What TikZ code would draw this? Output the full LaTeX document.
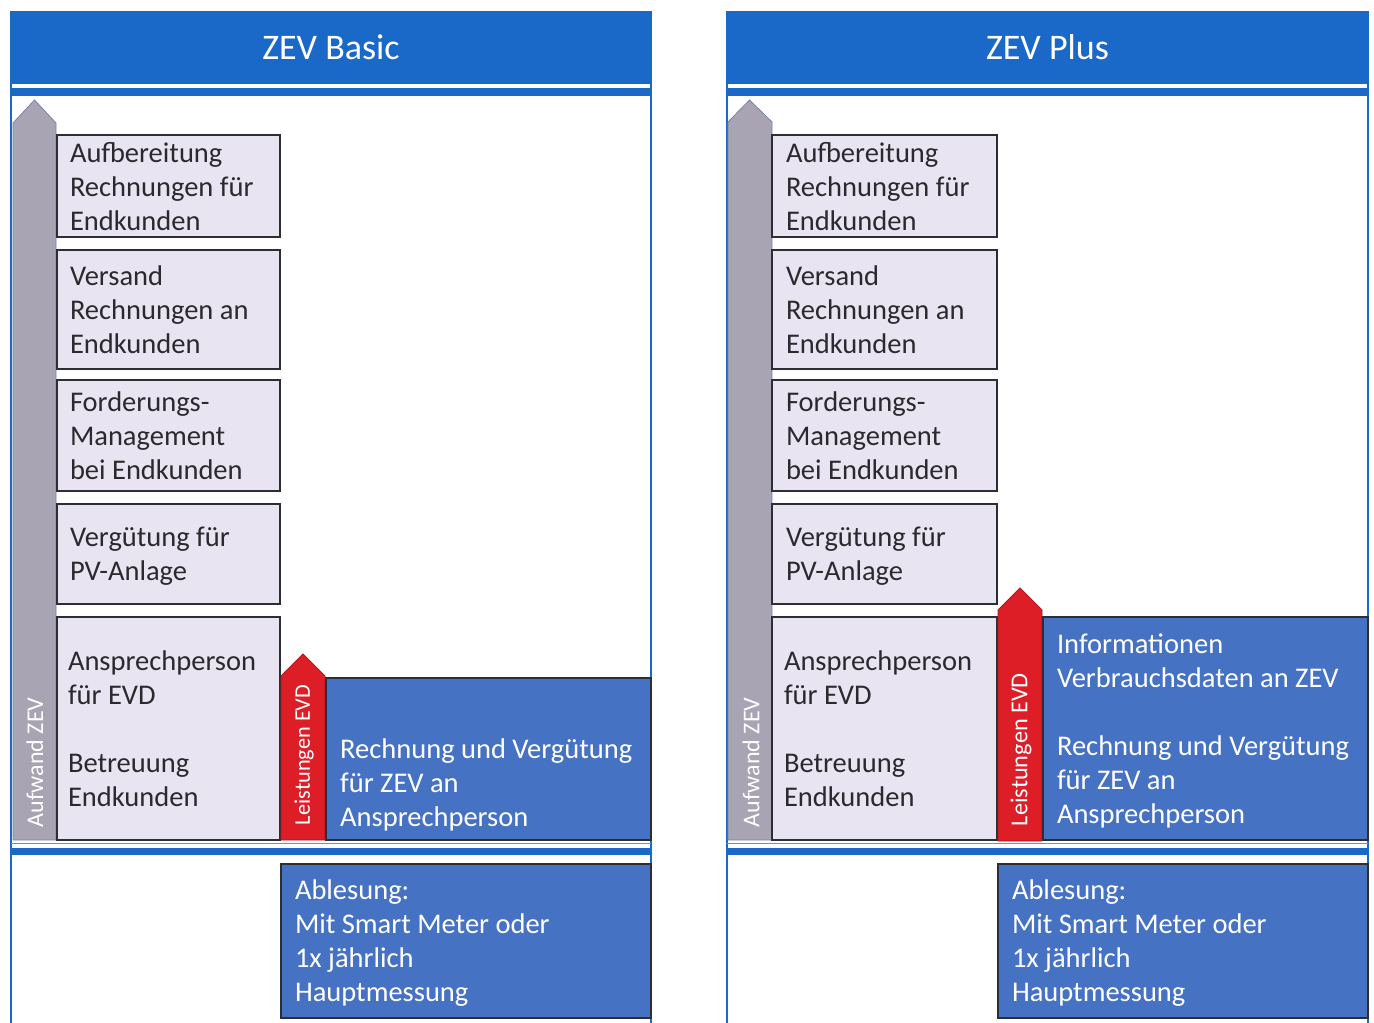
\documentclass[tikz,border=0pt]{standalone}
\usepackage{fontspec}
\setmainfont{Carlito}
\definecolor{hdrblue}{RGB}{26,104,200}
\definecolor{boxblue}{RGB}{70,114,196}
\definecolor{lav}{RGB}{232,228,242}
\definecolor{garrow}{RGB}{168,164,180}
\definecolor{garrowedge}{RGB}{120,130,170}
\definecolor{rarrow}{RGB}{222,30,38}
\definecolor{txt}{RGB}{42,42,46}
\definecolor{edge}{RGB}{45,45,52}
\tikzset{
  bodyfont/.style={font=\fontsize{28.5}{34}\selectfont},
  lbox/.style={draw=edge, line width=1.5pt, fill=lav, anchor=north west,
    inner xsep=13pt, inner ysep=0pt, outer sep=0pt, align=left, text=txt,
    text width=197pt, minimum width=223pt, bodyfont,
    execute at begin node={\spaceskip=0pt\xspaceskip=0pt\rule{0pt}{24pt}},
    execute at end node={\rule[-4pt]{0pt}{4pt}}},
  bbox/.style={lbox, fill=boxblue, text=white},
  hdrbox/.style={fill=hdrblue, minimum width=640pt, minimum height=73pt,
    anchor=north west, inner sep=0pt, outer sep=0pt, text=white,
    font=\fontsize{36}{40}\selectfont},
  rottext/.style={rotate=90, anchor=west, inner sep=0pt, outer sep=0pt, text=white},
  grayarrow/.style={fill=garrow, draw=garrowedge, line width=0.8pt},
  redarrow/.style={fill=rarrow, draw=rarrow!80!black, line width=0.8pt},
  panelline/.style={draw=hdrblue, line width=1.2pt},
  sepline/.style={fill=hdrblue},
}
\begin{document}
\begin{tikzpicture}[x=1pt,y=-1pt]
\useasboundingbox (0,0) rectangle (1374,1023);
\fill[white] (0,0) rectangle (1374,1023);

% ================= LEFT PANEL: ZEV Basic =================
\begin{scope}
  \draw[panelline] (11,11) -- (11,1023);
  \draw[panelline] (651,11) -- (651,1023);
  \node[hdrbox] (Lhdr) at (11,11) {ZEV Basic};
  \fill[sepline] (11,88) rectangle (651,96);
  \draw[hdrblue!70, line width=0.8pt] (11,843.5) -- (651,843.5);
  \fill[sepline] (11,848) rectangle (651,855);

  \path[grayarrow] (13,840) -- (13,123) -- (34.5,100) -- (56,123) -- (56,840) -- cycle;
  \node[rottext, font=\fontsize{24}{28}\selectfont] (Lauf) at (35,827) {Aufwand ZEV};

  \node[lbox, minimum height=102pt] (L1) at (57,135) {Aufbereitung\\Rechnungen für\\Endkunden};
  \node[lbox, minimum height=119pt] (L2) at (57,250) {Versand\\Rechnungen an\\Endkunden};
  \node[lbox, minimum height=111pt] (L3) at (57,380) {Forderungs-\\Management\\bei Endkunden};
  \node[lbox, minimum height=100pt] (L4) at (57,504) {Vergütung für\\PV-Anlage};
  \node[lbox, minimum height=223pt, inner xsep=11pt, text width=201pt] (L5) at (57,617) {Ansprechperson\\für EVD\\[34pt]Betreuung\\Endkunden};

  \path[redarrow] (281,840) -- (281,676) -- (303,654) -- (325,676) -- (325,840) -- cycle;
  \node[rottext, font=\fontsize{22.3}{26}\selectfont] (Lleist) at (304,825) {Leistungen EVD};

  \node[bbox, minimum height=162pt, minimum width=325pt, text width=299pt] (L6) at (326,678) {};
  \node[anchor=west, inner sep=0pt, align=left, text=white, bodyfont] (L6t) at (340,785) {Rechnung und Vergütung\\für ZEV an\\Ansprechperson};

  \node[bbox, minimum height=154pt, minimum width=370pt, inner xsep=14pt, text width=342pt] (L7) at (281,864) {Ablesung:\\Mit Smart Meter oder\\1x jährlich\\Hauptmessung};
\end{scope}

% ================= RIGHT PANEL: ZEV Plus =================
\begin{scope}[xshift=716pt]
  \draw[panelline] (11,11) -- (11,1023);
  \draw[panelline] (652,11) -- (652,1023);
  \node[hdrbox, minimum width=641pt] (Rhdr) at (11,11) {ZEV Plus};
  \fill[sepline] (11,88) rectangle (652,96);
  \draw[hdrblue!70, line width=0.8pt] (11,843.5) -- (652,843.5);
  \fill[sepline] (11,848) rectangle (652,855);

  \path[grayarrow] (12,840) -- (12,122) -- (33.5,100) -- (56,122) -- (56,840) -- cycle;
  \node[rottext, font=\fontsize{24}{28}\selectfont] (Rauf) at (35,827) {Aufwand ZEV};

  \node[lbox, minimum height=102pt, minimum width=225pt, inner xsep=14pt] (R1) at (56,135) {Aufbereitung\\Rechnungen für\\Endkunden};
  \node[lbox, minimum height=119pt, minimum width=225pt, inner xsep=14pt] (R2) at (56,250) {Versand\\Rechnungen an\\Endkunden};
  \node[lbox, minimum height=111pt, minimum width=225pt, inner xsep=14pt] (R3) at (56,380) {Forderungs-\\Management\\bei Endkunden};
  \node[lbox, minimum height=100pt, minimum width=225pt, inner xsep=14pt] (R4) at (56,504) {Vergütung für\\PV-Anlage};
  \node[lbox, minimum height=223pt, minimum width=225pt, inner xsep=12pt, text width=201pt] (R5) at (56,617) {Ansprechperson\\für EVD\\[34pt]Betreuung\\Endkunden};

  \path[redarrow] (282,841) -- (282,610) -- (304,588) -- (326,610) -- (326,841) -- cycle;
  \node[rottext, font=\fontsize{24.3}{28}\selectfont] (Rleist) at (305,826) {Leistungen EVD};

  \node[bbox, minimum height=223pt, minimum width=325pt, inner xsep=14pt, text width=297pt] (R6) at (327,617) {Informationen\\Verbrauchsdaten an ZEV\\[34pt]\mbox{Rechnung und Vergütung}\\für ZEV an\\Ansprechperson};

  \node[bbox, minimum height=154pt, minimum width=370pt, inner xsep=14pt, text width=342pt] (R7) at (282,864) {Ablesung:\\Mit Smart Meter oder\\1x jährlich\\Hauptmessung};
\end{scope}
\end{tikzpicture}
\end{document}
